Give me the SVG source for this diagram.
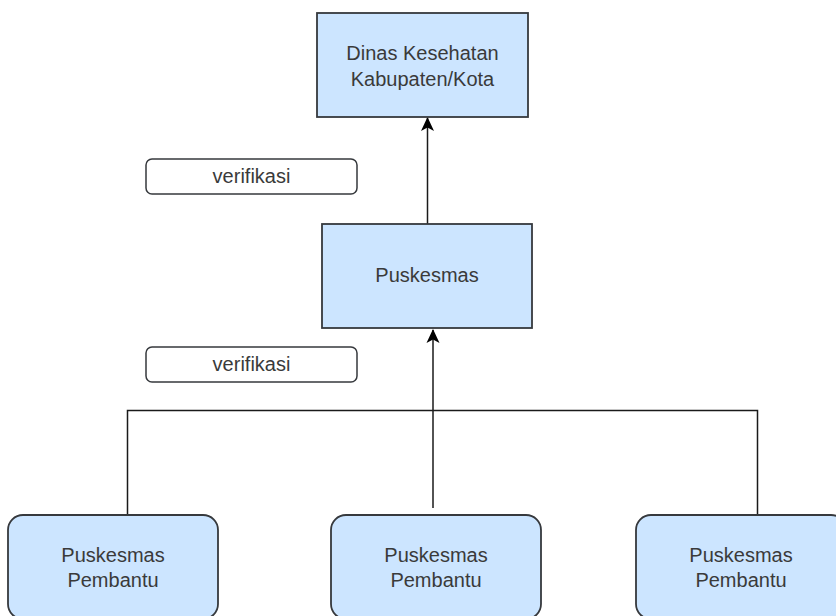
<svg xmlns="http://www.w3.org/2000/svg" width="836" height="616" viewBox="0 0 836 616">
<defs>
<style>
.box{fill:#cce5ff;stroke:#36393d;stroke-width:1.8}
.lbl{fill:#fff;stroke:#36393d;stroke-width:1.5}
.t{font-family:"Liberation Sans",Arial,sans-serif;font-size:20px;fill:#3a3a3a;text-anchor:middle}
.c{fill:none;stroke:#1a1a1a;stroke-width:1.5}
</style>
<marker id="arr" viewBox="0 0 14 14" refX="13" refY="7" markerWidth="14" markerHeight="14" markerUnits="userSpaceOnUse" orient="auto">
<path d="M0,0.5 L14,7 L0,13.5 L3.5,7 Z" fill="#000"/>
</marker>
</defs>
<rect width="836" height="616" fill="#ffffff"/>
<g id="connectors">
<line class="c" x1="427.5" y1="224" x2="427.5" y2="118" marker-end="url(#arr)"/>
<line class="c" x1="433" y1="508" x2="433" y2="330" marker-end="url(#arr)"/>
<path class="c" d="M127.5,515 V410.5 H757.5 V515"/>
</g>
<g id="dinas">
<rect class="box" x="317" y="13" width="211" height="104"/>
<text class="t" x="422.5" y="60">Dinas Kesehatan</text>
<text class="t" x="422.5" y="86">Kabupaten/Kota</text>
</g>
<g id="puskesmas">
<rect class="box" x="322" y="224" width="210" height="104"/>
<text class="t" x="427" y="282">Puskesmas</text>
</g>
<g id="verifikasi1">
<rect class="lbl" x="146" y="159" width="211" height="35" rx="6"/>
<text class="t" x="251.5" y="183">verifikasi</text>
</g>
<g id="verifikasi2">
<rect class="lbl" x="146" y="347" width="211" height="35" rx="6"/>
<text class="t" x="251.5" y="371">verifikasi</text>
</g>
<g id="pustu1">
<rect class="box" x="8" y="515" width="210" height="104" rx="15"/>
<text class="t" x="113" y="562">Puskesmas</text>
<text class="t" x="113" y="587">Pembantu</text>
</g>
<g id="pustu2">
<rect class="box" x="331" y="515" width="210" height="104" rx="15"/>
<text class="t" x="436" y="562">Puskesmas</text>
<text class="t" x="436" y="587">Pembantu</text>
</g>
<g id="pustu3">
<rect class="box" x="636" y="515" width="210" height="104" rx="15"/>
<text class="t" x="741" y="562">Puskesmas</text>
<text class="t" x="741" y="587">Pembantu</text>
</g>
</svg>
